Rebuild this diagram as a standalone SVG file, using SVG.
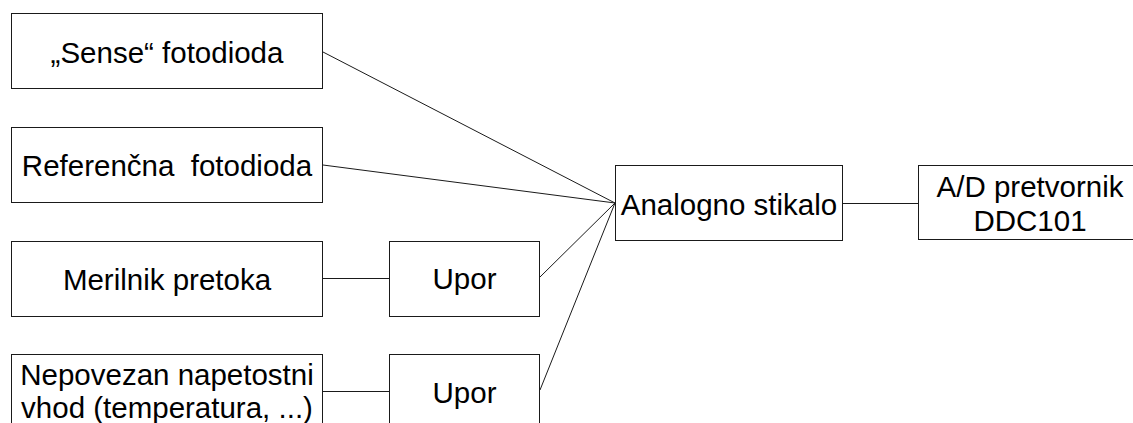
<svg xmlns="http://www.w3.org/2000/svg" width="1133" height="423" viewBox="0 0 1133 423">
  <style>
    .box { fill: #ffffff; stroke: #1a1a1a; stroke-width: 1; }
    .wire { fill: none; stroke: #1a1a1a; stroke-width: 1; }
    .lbl { font-family: "Liberation Sans", Arial, sans-serif; font-size: 29.5px; fill: #000000; text-anchor: middle; }
  </style>
  <rect width="1133" height="423" fill="#ffffff"/>

  <g id="connectors">
    <line class="wire" x1="323" y1="52" x2="615" y2="203"/>
    <line class="wire" x1="323" y1="165" x2="615" y2="203"/>
    <line class="wire" x1="540" y1="277" x2="615" y2="203"/>
    <line class="wire" x1="540" y1="390" x2="615" y2="203"/>
    <line class="wire" x1="323" y1="278.5" x2="389" y2="278.5"/>
    <line class="wire" x1="323" y1="391.5" x2="389" y2="391.5"/>
    <line class="wire" x1="843" y1="203.5" x2="918" y2="203.5"/>
  </g>

  <g id="sense">
    <rect class="box" x="11.5" y="13.5" width="311" height="75"/>
    <text class="lbl" x="167" y="63">„Sense“ fotodioda</text>
  </g>

  <g id="referencna">
    <rect class="box" x="11.5" y="127.5" width="311" height="75"/>
    <text class="lbl" x="167" y="176" xml:space="preserve">Referenčna  fotodioda</text>
  </g>

  <g id="merilnik">
    <rect class="box" x="11.5" y="241.5" width="311" height="75"/>
    <text class="lbl" x="167" y="290">Merilnik pretoka</text>
  </g>

  <g id="nepovezan">
    <rect class="box" x="11.5" y="354.5" width="311" height="80"/>
    <text class="lbl" x="167" y="385">Nepovezan napetostni</text>
    <text class="lbl" x="167" y="418">vhod (temperatura, ...)</text>
  </g>

  <g id="upor1">
    <rect class="box" x="389.5" y="241.5" width="150" height="75"/>
    <text class="lbl" x="464.5" y="289">Upor</text>
  </g>

  <g id="upor2">
    <rect class="box" x="389.5" y="354.5" width="150" height="80"/>
    <text class="lbl" x="464.5" y="403">Upor</text>
  </g>

  <g id="stikalo">
    <rect class="box" x="615.5" y="165.5" width="227" height="75"/>
    <text class="lbl" x="729" y="215">Analogno stikalo</text>
  </g>

  <g id="adc">
    <rect class="box" x="918.5" y="165.5" width="224" height="74"/>
    <text class="lbl" x="1030" y="197">A/D pretvornik</text>
    <text class="lbl" x="1030" y="231">DDC101</text>
  </g>
</svg>
